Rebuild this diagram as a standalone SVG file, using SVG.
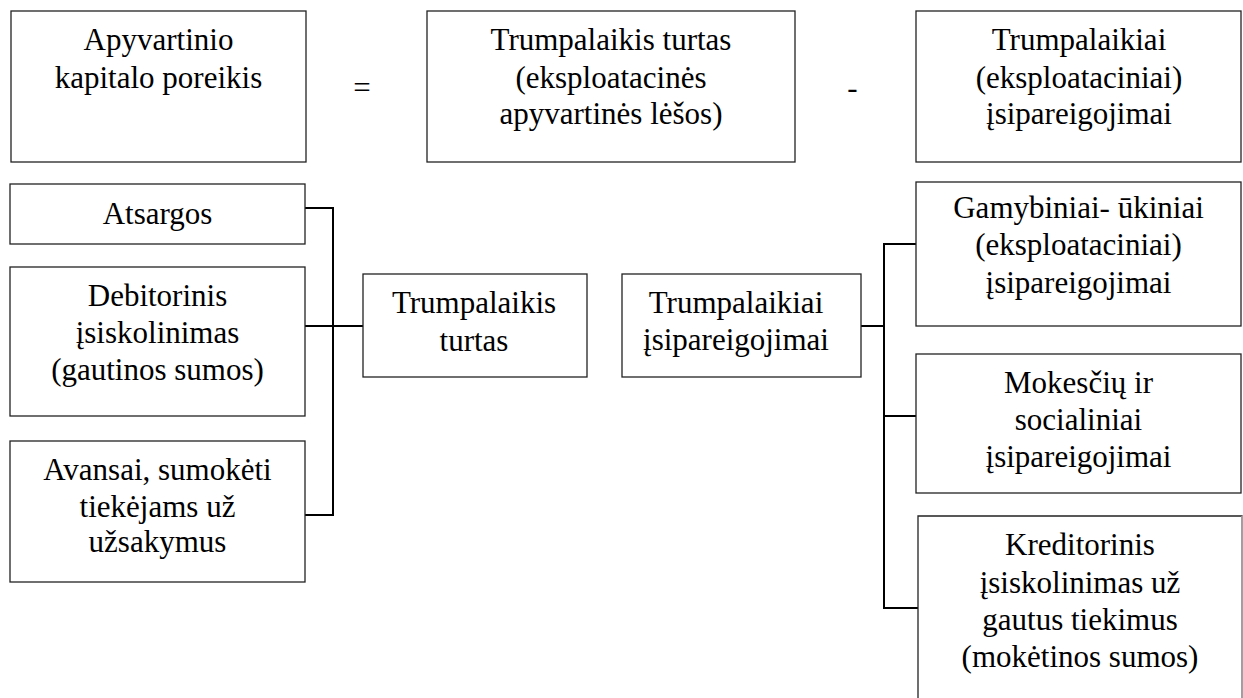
<svg xmlns="http://www.w3.org/2000/svg" width="1243" height="698" viewBox="0 0 1243 698">
<style>
  .box { fill: #fff; stroke: #222; stroke-width: 1.3; }
  .conn { stroke: #000; stroke-width: 2; fill: none; }
  text { font-family: "Liberation Serif", serif; font-size: 31px; text-anchor: middle; fill: #000; }
</style>
<rect width="1243" height="698" fill="#fff"/>

<g id="connectors">
  <path class="conn" d="M305,208 H333 V515 H305"/>
  <path class="conn" d="M305,326 H363"/>
  <path class="conn" d="M861,326 H884"/>
  <path class="conn" d="M916,244 H884 V608 H918"/>
  <path class="conn" d="M884,416 H916"/>
</g>

<g id="n-apyvartinio">
  <rect class="box" x="11" y="11" width="295" height="151"/>
  <text x="158.5" y="50">Apyvartinio</text>
  <text x="158.5" y="88">kapitalo poreikis</text>
</g>

<g id="op-eq">
  <text x="362" y="98">=</text>
</g>

<g id="n-trumpalaikis-turtas-top">
  <rect class="box" x="427" y="11" width="368" height="151"/>
  <text x="611" y="50">Trumpalaikis turtas</text>
  <text x="611" y="88">(eksploatacinės</text>
  <text x="611" y="124">apyvartinės lėšos)</text>
</g>

<g id="op-minus">
  <text x="852.5" y="98">-</text>
</g>

<g id="n-trumpalaikiai-top">
  <rect class="box" x="916" y="11" width="325" height="151"/>
  <text x="1079" y="50">Trumpalaikiai</text>
  <text x="1079" y="88">(eksploataciniai)</text>
  <text x="1079" y="124">įsipareigojimai</text>
</g>

<g id="n-atsargos">
  <rect class="box" x="10" y="184" width="295" height="60"/>
  <text x="157.5" y="224">Atsargos</text>
</g>

<g id="n-debitorinis">
  <rect class="box" x="10" y="267" width="295" height="149"/>
  <text x="157.5" y="306">Debitorinis</text>
  <text x="157.5" y="343">įsiskolinimas</text>
  <text x="157.5" y="380">(gautinos sumos)</text>
</g>

<g id="n-avansai">
  <rect class="box" x="10" y="441" width="295" height="141"/>
  <text x="157.5" y="480">Avansai, sumokėti</text>
  <text x="157.5" y="517">tiekėjams už</text>
  <text x="157.5" y="552">užsakymus</text>
</g>

<g id="n-trumpalaikis-turtas">
  <rect class="box" x="363" y="274" width="224" height="103"/>
  <text x="474" y="313">Trumpalaikis</text>
  <text x="474" y="351">turtas</text>
</g>

<g id="n-trumpalaikiai">
  <rect class="box" x="622" y="274" width="239" height="103"/>
  <text x="736" y="313">Trumpalaikiai</text>
  <text x="736" y="350">įsipareigojimai</text>
</g>

<g id="n-gamybiniai">
  <rect class="box" x="916" y="182" width="325" height="144"/>
  <text x="1078.5" y="218">Gamybiniai- ūkiniai</text>
  <text x="1078.5" y="255">(eksploataciniai)</text>
  <text x="1078.5" y="293">įsipareigojimai</text>
</g>

<g id="n-mokesciu">
  <rect class="box" x="916" y="354" width="325" height="139"/>
  <text x="1078.5" y="393">Mokesčių ir</text>
  <text x="1078.5" y="430">socialiniai</text>
  <text x="1078.5" y="467">įsipareigojimai</text>
</g>

<g id="n-kreditorinis">
  <path d="M918,710 V516 H1242 V710" fill="#fff" stroke="#222" stroke-width="1.3"/>
  <path d="M1242,516 V710" stroke="#bbb" stroke-width="1.3"/>
  <text x="1080" y="555">Kreditorinis</text>
  <text x="1080" y="593">įsiskolinimas už</text>
  <text x="1080" y="630">gautus tiekimus</text>
  <text x="1080" y="667">(mokėtinos sumos)</text>
</g>
</svg>
